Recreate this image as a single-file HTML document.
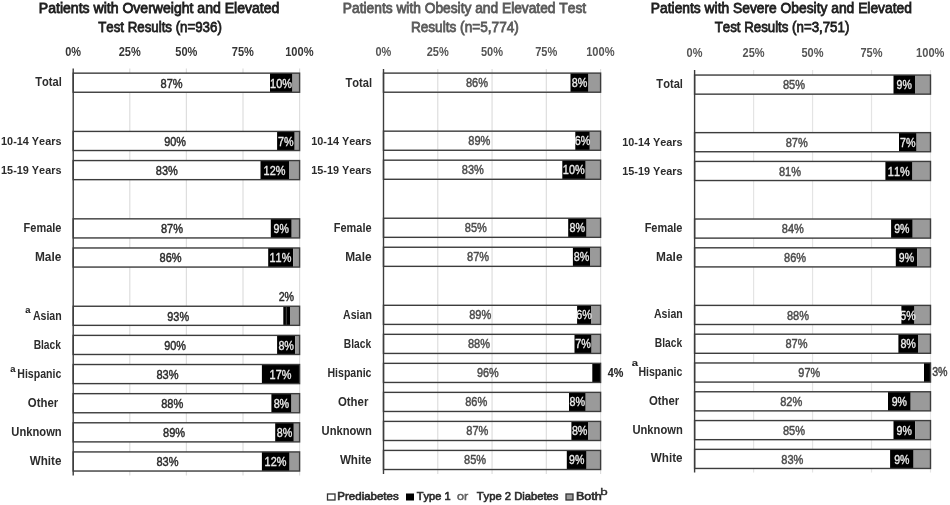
<!DOCTYPE html>
<html><head><meta charset="utf-8"><title>Elevated Test Results</title>
<style>
html,body{margin:0;padding:0;background:#fff;}
body{width:950px;height:505px;overflow:hidden;}
svg{display:block;font-family:"Liberation Sans",Arial,sans-serif;font-kerning:none;}
</style></head><body>
<svg width="950" height="505" viewBox="0 0 950 505">
<rect x="0" y="0" width="950" height="505" fill="#fff"/>
<line x1="129.80" y1="68.50" x2="129.80" y2="475.50" stroke="#dedede" stroke-width="1.2"/>
<line x1="186.40" y1="68.50" x2="186.40" y2="475.50" stroke="#dedede" stroke-width="1.2"/>
<line x1="243.00" y1="68.50" x2="243.00" y2="475.50" stroke="#dedede" stroke-width="1.2"/>
<line x1="299.60" y1="68.50" x2="299.60" y2="475.50" stroke="#dedede" stroke-width="1.2"/>
<text x="65.21" y="56.00" font-size="12.54" font-weight="bold" fill="#363636" stroke="#363636" stroke-width="0" textLength="15.84" lengthAdjust="spacingAndGlyphs" >0%</text>
<text x="118.72" y="56.00" font-size="12.54" font-weight="bold" fill="#363636" stroke="#363636" stroke-width="0" textLength="22.06" lengthAdjust="spacingAndGlyphs" >25%</text>
<text x="175.34" y="56.00" font-size="12.54" font-weight="bold" fill="#363636" stroke="#363636" stroke-width="0" textLength="22.08" lengthAdjust="spacingAndGlyphs" >50%</text>
<text x="231.87" y="56.00" font-size="12.58" font-weight="bold" fill="#363636" stroke="#363636" stroke-width="0" textLength="22.07" lengthAdjust="spacingAndGlyphs" >75%</text>
<text x="285.20" y="56.00" font-size="12.54" font-weight="bold" fill="#363636" stroke="#363636" stroke-width="0" textLength="28.40" lengthAdjust="spacingAndGlyphs" >100%</text>
<text x="38.85" y="13.00" font-size="14.18" font-weight="normal" fill="#1e1e1e" stroke="#1e1e1e" stroke-width="0.8" textLength="240.56" lengthAdjust="spacingAndGlyphs" >Patients with Overweight and Elevated</text>
<text x="98.20" y="32.00" font-size="14.94" font-weight="normal" fill="#1e1e1e" stroke="#1e1e1e" stroke-width="0.8" textLength="123.62" lengthAdjust="spacingAndGlyphs" >Test Results (n=936)</text>
<rect x="73.20" y="73.15" width="196.80" height="19.10" fill="#ffffff"/>
<rect x="270.00" y="73.15" width="22.50" height="19.10" fill="#000000"/>
<rect x="292.50" y="73.15" width="7.10" height="19.10" fill="#9a9a9a"/>
<rect x="73.20" y="73.15" width="226.40" height="19.10" fill="none" stroke="#3c3c3c" stroke-width="1.4"/>
<text x="160.52" y="87.60" font-size="12.52" font-weight="normal" fill="#2a2a2a" stroke="#2a2a2a" stroke-width="0.45" textLength="22.07" lengthAdjust="spacingAndGlyphs" >87%</text>
<text x="270.12" y="87.60" font-size="12.50" font-weight="normal" fill="#ececec" stroke="#ececec" stroke-width="0.35" textLength="21.83" lengthAdjust="spacingAndGlyphs" >10%</text>
<text x="35.26" y="86.40" font-size="12.10" font-weight="bold" fill="#2c2c2c" stroke="#2c2c2c" stroke-width="0.0" textLength="26.53" lengthAdjust="spacingAndGlyphs" >Total</text>
<rect x="73.20" y="131.42" width="203.90" height="19.10" fill="#ffffff"/>
<rect x="277.10" y="131.42" width="17.60" height="19.10" fill="#000000"/>
<rect x="294.70" y="131.42" width="4.90" height="19.10" fill="#9a9a9a"/>
<rect x="73.20" y="131.42" width="226.40" height="19.10" fill="none" stroke="#3c3c3c" stroke-width="1.4"/>
<text x="164.19" y="145.87" font-size="12.50" font-weight="normal" fill="#2a2a2a" stroke="#2a2a2a" stroke-width="0.45" textLength="21.79" lengthAdjust="spacingAndGlyphs" >90%</text>
<text x="278.04" y="145.87" font-size="12.58" font-weight="normal" fill="#ececec" stroke="#ececec" stroke-width="0.35" textLength="15.55" lengthAdjust="spacingAndGlyphs" >7%</text>
<text x="1.09" y="144.67" font-size="11.74" font-weight="bold" fill="#2c2c2c" stroke="#2c2c2c" stroke-width="0.0" textLength="60.36" lengthAdjust="spacingAndGlyphs" >10-14 Years</text>
<rect x="73.20" y="160.56" width="187.30" height="19.10" fill="#ffffff"/>
<rect x="260.50" y="160.56" width="28.50" height="19.10" fill="#000000"/>
<rect x="289.00" y="160.56" width="10.60" height="19.10" fill="#9a9a9a"/>
<rect x="73.20" y="160.56" width="226.40" height="19.10" fill="none" stroke="#3c3c3c" stroke-width="1.4"/>
<text x="155.77" y="175.01" font-size="12.52" font-weight="normal" fill="#2a2a2a" stroke="#2a2a2a" stroke-width="0.45" textLength="22.07" lengthAdjust="spacingAndGlyphs" >83%</text>
<text x="263.62" y="175.01" font-size="12.50" font-weight="normal" fill="#ececec" stroke="#ececec" stroke-width="0.35" textLength="21.83" lengthAdjust="spacingAndGlyphs" >12%</text>
<text x="1.09" y="173.81" font-size="11.74" font-weight="bold" fill="#2c2c2c" stroke="#2c2c2c" stroke-width="0.0" textLength="60.36" lengthAdjust="spacingAndGlyphs" >15-19 Years</text>
<rect x="73.20" y="218.84" width="197.60" height="19.10" fill="#ffffff"/>
<rect x="270.80" y="218.84" width="20.90" height="19.10" fill="#000000"/>
<rect x="291.70" y="218.84" width="7.90" height="19.10" fill="#9a9a9a"/>
<rect x="73.20" y="218.84" width="226.40" height="19.10" fill="none" stroke="#3c3c3c" stroke-width="1.4"/>
<text x="160.92" y="233.29" font-size="12.52" font-weight="normal" fill="#2a2a2a" stroke="#2a2a2a" stroke-width="0.45" textLength="22.07" lengthAdjust="spacingAndGlyphs" >87%</text>
<text x="273.55" y="233.29" font-size="12.50" font-weight="normal" fill="#ececec" stroke="#ececec" stroke-width="0.35" textLength="15.28" lengthAdjust="spacingAndGlyphs" >9%</text>
<text x="23.58" y="232.09" font-size="12.10" font-weight="bold" fill="#2c2c2c" stroke="#2c2c2c" stroke-width="0.0" textLength="37.80" lengthAdjust="spacingAndGlyphs" >Female</text>
<rect x="73.20" y="247.97" width="195.00" height="19.10" fill="#ffffff"/>
<rect x="268.20" y="247.97" width="24.90" height="19.10" fill="#000000"/>
<rect x="293.10" y="247.97" width="6.50" height="19.10" fill="#9a9a9a"/>
<rect x="73.20" y="247.97" width="226.40" height="19.10" fill="none" stroke="#3c3c3c" stroke-width="1.4"/>
<text x="159.62" y="262.42" font-size="12.52" font-weight="normal" fill="#2a2a2a" stroke="#2a2a2a" stroke-width="0.45" textLength="22.07" lengthAdjust="spacingAndGlyphs" >86%</text>
<text x="269.52" y="262.42" font-size="12.58" font-weight="normal" fill="#ececec" stroke="#ececec" stroke-width="0.35" textLength="21.83" lengthAdjust="spacingAndGlyphs" >11%</text>
<text x="34.97" y="261.22" font-size="12.10" font-weight="bold" fill="#2c2c2c" stroke="#2c2c2c" stroke-width="0.0" textLength="26.43" lengthAdjust="spacingAndGlyphs" >Male</text>
<rect x="73.20" y="306.25" width="210.10" height="19.10" fill="#ffffff"/>
<rect x="283.30" y="306.25" width="6.70" height="19.10" fill="#000000"/>
<rect x="290.00" y="306.25" width="9.60" height="19.10" fill="#9a9a9a"/>
<rect x="73.20" y="306.25" width="226.40" height="19.10" fill="none" stroke="#3c3c3c" stroke-width="1.4"/>
<text x="167.29" y="320.70" font-size="12.50" font-weight="normal" fill="#2a2a2a" stroke="#2a2a2a" stroke-width="0.45" textLength="21.79" lengthAdjust="spacingAndGlyphs" >93%</text>
<text x="32.91" y="319.50" font-size="12.10" font-weight="bold" fill="#2c2c2c" stroke="#2c2c2c" stroke-width="0.0" textLength="28.75" lengthAdjust="spacingAndGlyphs" >Asian</text>
<rect x="73.20" y="335.38" width="203.90" height="19.10" fill="#ffffff"/>
<rect x="277.10" y="335.38" width="18.20" height="19.10" fill="#000000"/>
<rect x="295.30" y="335.38" width="4.30" height="19.10" fill="#9a9a9a"/>
<rect x="73.20" y="335.38" width="226.40" height="19.10" fill="none" stroke="#3c3c3c" stroke-width="1.4"/>
<text x="164.19" y="349.83" font-size="12.50" font-weight="normal" fill="#2a2a2a" stroke="#2a2a2a" stroke-width="0.45" textLength="21.79" lengthAdjust="spacingAndGlyphs" >90%</text>
<text x="278.38" y="349.83" font-size="12.52" font-weight="normal" fill="#ececec" stroke="#ececec" stroke-width="0.35" textLength="15.56" lengthAdjust="spacingAndGlyphs" >8%</text>
<text x="33.64" y="348.63" font-size="12.10" font-weight="bold" fill="#2c2c2c" stroke="#2c2c2c" stroke-width="0.0" textLength="27.35" lengthAdjust="spacingAndGlyphs" >Black</text>
<rect x="73.20" y="364.52" width="188.70" height="19.10" fill="#ffffff"/>
<rect x="261.90" y="364.52" width="37.70" height="19.10" fill="#000000"/>
<rect x="73.20" y="364.52" width="226.40" height="19.10" fill="none" stroke="#3c3c3c" stroke-width="1.4"/>
<text x="156.47" y="378.97" font-size="12.52" font-weight="normal" fill="#2a2a2a" stroke="#2a2a2a" stroke-width="0.45" textLength="22.07" lengthAdjust="spacingAndGlyphs" >83%</text>
<text x="269.62" y="378.97" font-size="12.58" font-weight="normal" fill="#ececec" stroke="#ececec" stroke-width="0.35" textLength="21.83" lengthAdjust="spacingAndGlyphs" >17%</text>
<text x="17.28" y="377.77" font-size="12.10" font-weight="bold" fill="#2c2c2c" stroke="#2c2c2c" stroke-width="0.0" textLength="44.03" lengthAdjust="spacingAndGlyphs" >Hispanic</text>
<rect x="73.20" y="393.66" width="198.20" height="19.10" fill="#ffffff"/>
<rect x="271.40" y="393.66" width="20.10" height="19.10" fill="#000000"/>
<rect x="291.50" y="393.66" width="8.10" height="19.10" fill="#9a9a9a"/>
<rect x="73.20" y="393.66" width="226.40" height="19.10" fill="none" stroke="#3c3c3c" stroke-width="1.4"/>
<text x="161.22" y="408.11" font-size="12.52" font-weight="normal" fill="#2a2a2a" stroke="#2a2a2a" stroke-width="0.45" textLength="22.07" lengthAdjust="spacingAndGlyphs" >88%</text>
<text x="273.63" y="408.11" font-size="12.52" font-weight="normal" fill="#ececec" stroke="#ececec" stroke-width="0.35" textLength="15.56" lengthAdjust="spacingAndGlyphs" >8%</text>
<text x="27.78" y="406.91" font-size="12.10" font-weight="bold" fill="#2c2c2c" stroke="#2c2c2c" stroke-width="0.0" textLength="30.39" lengthAdjust="spacingAndGlyphs" >Other</text>
<rect x="73.20" y="422.79" width="202.00" height="19.10" fill="#ffffff"/>
<rect x="275.20" y="422.79" width="18.60" height="19.10" fill="#000000"/>
<rect x="293.80" y="422.79" width="5.80" height="19.10" fill="#9a9a9a"/>
<rect x="73.20" y="422.79" width="226.40" height="19.10" fill="none" stroke="#3c3c3c" stroke-width="1.4"/>
<text x="163.12" y="437.24" font-size="12.52" font-weight="normal" fill="#2a2a2a" stroke="#2a2a2a" stroke-width="0.45" textLength="22.07" lengthAdjust="spacingAndGlyphs" >89%</text>
<text x="276.68" y="437.24" font-size="12.52" font-weight="normal" fill="#ececec" stroke="#ececec" stroke-width="0.35" textLength="15.56" lengthAdjust="spacingAndGlyphs" >8%</text>
<text x="11.35" y="436.04" font-size="12.10" font-weight="bold" fill="#2c2c2c" stroke="#2c2c2c" stroke-width="0.0" textLength="50.35" lengthAdjust="spacingAndGlyphs" >Unknown</text>
<rect x="73.20" y="451.93" width="188.70" height="19.10" fill="#ffffff"/>
<rect x="261.90" y="451.93" width="27.70" height="19.10" fill="#000000"/>
<rect x="289.60" y="451.93" width="10.00" height="19.10" fill="#9a9a9a"/>
<rect x="73.20" y="451.93" width="226.40" height="19.10" fill="none" stroke="#3c3c3c" stroke-width="1.4"/>
<text x="156.47" y="466.38" font-size="12.52" font-weight="normal" fill="#2a2a2a" stroke="#2a2a2a" stroke-width="0.45" textLength="22.07" lengthAdjust="spacingAndGlyphs" >83%</text>
<text x="264.62" y="466.38" font-size="12.50" font-weight="normal" fill="#ececec" stroke="#ececec" stroke-width="0.35" textLength="21.83" lengthAdjust="spacingAndGlyphs" >12%</text>
<text x="29.69" y="465.18" font-size="12.10" font-weight="bold" fill="#2c2c2c" stroke="#2c2c2c" stroke-width="0.0" textLength="31.71" lengthAdjust="spacingAndGlyphs" >White</text>
<line x1="73.20" y1="68.50" x2="73.20" y2="475.50" stroke="#3c3c3c" stroke-width="1.4"/>
<line x1="437.77" y1="69.00" x2="437.77" y2="474.00" stroke="#dedede" stroke-width="1.2"/>
<line x1="492.05" y1="69.00" x2="492.05" y2="474.00" stroke="#dedede" stroke-width="1.2"/>
<line x1="546.33" y1="69.00" x2="546.33" y2="474.00" stroke="#dedede" stroke-width="1.2"/>
<line x1="600.60" y1="69.00" x2="600.60" y2="474.00" stroke="#dedede" stroke-width="1.2"/>
<text x="375.51" y="55.60" font-size="12.54" font-weight="bold" fill="#555" stroke="#555" stroke-width="0" textLength="15.84" lengthAdjust="spacingAndGlyphs" >0%</text>
<text x="426.70" y="55.60" font-size="12.54" font-weight="bold" fill="#555" stroke="#555" stroke-width="0" textLength="22.06" lengthAdjust="spacingAndGlyphs" >25%</text>
<text x="480.99" y="55.60" font-size="12.54" font-weight="bold" fill="#555" stroke="#555" stroke-width="0" textLength="22.08" lengthAdjust="spacingAndGlyphs" >50%</text>
<text x="535.20" y="55.60" font-size="12.58" font-weight="bold" fill="#555" stroke="#555" stroke-width="0" textLength="22.07" lengthAdjust="spacingAndGlyphs" >75%</text>
<text x="586.20" y="55.60" font-size="12.54" font-weight="bold" fill="#555" stroke="#555" stroke-width="0" textLength="28.40" lengthAdjust="spacingAndGlyphs" >100%</text>
<text x="342.87" y="13.00" font-size="14.18" font-weight="normal" fill="#5a5a5a" stroke="#5a5a5a" stroke-width="0.8" textLength="243.23" lengthAdjust="spacingAndGlyphs" >Patients with Obesity and Elevated Test</text>
<text x="410.88" y="32.00" font-size="14.94" font-weight="normal" fill="#5a5a5a" stroke="#5a5a5a" stroke-width="0.8" textLength="107.96" lengthAdjust="spacingAndGlyphs" >Results (n=5,774)</text>
<rect x="383.50" y="73.11" width="187.00" height="19.10" fill="#ffffff"/>
<rect x="570.50" y="73.11" width="18.00" height="19.10" fill="#000000"/>
<rect x="588.50" y="73.11" width="12.10" height="19.10" fill="#9a9a9a"/>
<line x1="437.77" y1="73.81" x2="437.77" y2="91.51" stroke="#dedede" stroke-width="1.2"/>
<line x1="492.05" y1="73.81" x2="492.05" y2="91.51" stroke="#dedede" stroke-width="1.2"/>
<line x1="546.33" y1="73.81" x2="546.33" y2="91.51" stroke="#dedede" stroke-width="1.2"/>
<rect x="383.50" y="73.11" width="217.10" height="19.10" fill="none" stroke="#3c3c3c" stroke-width="1.4"/>
<text x="465.92" y="87.06" font-size="12.52" font-weight="normal" fill="#4a4a4a" stroke="#4a4a4a" stroke-width="0.45" textLength="22.07" lengthAdjust="spacingAndGlyphs" >86%</text>
<text x="571.68" y="87.06" font-size="12.52" font-weight="normal" fill="#ececec" stroke="#ececec" stroke-width="0.35" textLength="15.56" lengthAdjust="spacingAndGlyphs" >8%</text>
<text x="345.46" y="86.61" font-size="12.10" font-weight="bold" fill="#2c2c2c" stroke="#2c2c2c" stroke-width="0.0" textLength="26.53" lengthAdjust="spacingAndGlyphs" >Total</text>
<rect x="383.50" y="131.16" width="191.80" height="19.10" fill="#ffffff"/>
<rect x="575.30" y="131.16" width="14.50" height="19.10" fill="#000000"/>
<rect x="589.80" y="131.16" width="10.80" height="19.10" fill="#9a9a9a"/>
<line x1="437.77" y1="131.86" x2="437.77" y2="149.56" stroke="#dedede" stroke-width="1.2"/>
<line x1="492.05" y1="131.86" x2="492.05" y2="149.56" stroke="#dedede" stroke-width="1.2"/>
<line x1="546.33" y1="131.86" x2="546.33" y2="149.56" stroke="#dedede" stroke-width="1.2"/>
<rect x="383.50" y="131.16" width="217.10" height="19.10" fill="none" stroke="#3c3c3c" stroke-width="1.4"/>
<text x="468.32" y="145.11" font-size="12.52" font-weight="normal" fill="#4a4a4a" stroke="#4a4a4a" stroke-width="0.45" textLength="22.07" lengthAdjust="spacingAndGlyphs" >89%</text>
<text x="574.68" y="145.11" font-size="12.50" font-weight="normal" fill="#ececec" stroke="#ececec" stroke-width="0.35" textLength="15.58" lengthAdjust="spacingAndGlyphs" >6%</text>
<text x="311.29" y="144.66" font-size="11.74" font-weight="bold" fill="#2c2c2c" stroke="#2c2c2c" stroke-width="0.0" textLength="60.36" lengthAdjust="spacingAndGlyphs" >10-14 Years</text>
<rect x="383.50" y="160.18" width="178.80" height="19.10" fill="#ffffff"/>
<rect x="562.30" y="160.18" width="23.40" height="19.10" fill="#000000"/>
<rect x="585.70" y="160.18" width="14.90" height="19.10" fill="#9a9a9a"/>
<line x1="437.77" y1="160.88" x2="437.77" y2="178.58" stroke="#dedede" stroke-width="1.2"/>
<line x1="492.05" y1="160.88" x2="492.05" y2="178.58" stroke="#dedede" stroke-width="1.2"/>
<line x1="546.33" y1="160.88" x2="546.33" y2="178.58" stroke="#dedede" stroke-width="1.2"/>
<rect x="383.50" y="160.18" width="217.10" height="19.10" fill="none" stroke="#3c3c3c" stroke-width="1.4"/>
<text x="461.82" y="174.13" font-size="12.52" font-weight="normal" fill="#4a4a4a" stroke="#4a4a4a" stroke-width="0.45" textLength="22.07" lengthAdjust="spacingAndGlyphs" >83%</text>
<text x="562.87" y="174.13" font-size="12.50" font-weight="normal" fill="#ececec" stroke="#ececec" stroke-width="0.35" textLength="21.83" lengthAdjust="spacingAndGlyphs" >10%</text>
<text x="311.29" y="173.68" font-size="11.74" font-weight="bold" fill="#2c2c2c" stroke="#2c2c2c" stroke-width="0.0" textLength="60.36" lengthAdjust="spacingAndGlyphs" >15-19 Years</text>
<rect x="383.50" y="218.23" width="184.70" height="19.10" fill="#ffffff"/>
<rect x="568.20" y="218.23" width="18.40" height="19.10" fill="#000000"/>
<rect x="586.60" y="218.23" width="14.00" height="19.10" fill="#9a9a9a"/>
<line x1="437.77" y1="218.93" x2="437.77" y2="236.63" stroke="#dedede" stroke-width="1.2"/>
<line x1="492.05" y1="218.93" x2="492.05" y2="236.63" stroke="#dedede" stroke-width="1.2"/>
<line x1="546.33" y1="218.93" x2="546.33" y2="236.63" stroke="#dedede" stroke-width="1.2"/>
<rect x="383.50" y="218.23" width="217.10" height="19.10" fill="none" stroke="#3c3c3c" stroke-width="1.4"/>
<text x="464.77" y="232.18" font-size="12.52" font-weight="normal" fill="#4a4a4a" stroke="#4a4a4a" stroke-width="0.45" textLength="22.07" lengthAdjust="spacingAndGlyphs" >85%</text>
<text x="569.58" y="232.18" font-size="12.52" font-weight="normal" fill="#ececec" stroke="#ececec" stroke-width="0.35" textLength="15.56" lengthAdjust="spacingAndGlyphs" >8%</text>
<text x="333.78" y="231.73" font-size="12.10" font-weight="bold" fill="#2c2c2c" stroke="#2c2c2c" stroke-width="0.0" textLength="37.80" lengthAdjust="spacingAndGlyphs" >Female</text>
<rect x="383.50" y="247.25" width="189.40" height="19.10" fill="#ffffff"/>
<rect x="572.90" y="247.25" width="17.50" height="19.10" fill="#000000"/>
<rect x="590.40" y="247.25" width="10.20" height="19.10" fill="#9a9a9a"/>
<line x1="437.77" y1="247.95" x2="437.77" y2="265.65" stroke="#dedede" stroke-width="1.2"/>
<line x1="492.05" y1="247.95" x2="492.05" y2="265.65" stroke="#dedede" stroke-width="1.2"/>
<line x1="546.33" y1="247.95" x2="546.33" y2="265.65" stroke="#dedede" stroke-width="1.2"/>
<rect x="383.50" y="247.25" width="217.10" height="19.10" fill="none" stroke="#3c3c3c" stroke-width="1.4"/>
<text x="467.12" y="261.20" font-size="12.52" font-weight="normal" fill="#4a4a4a" stroke="#4a4a4a" stroke-width="0.45" textLength="22.07" lengthAdjust="spacingAndGlyphs" >87%</text>
<text x="573.83" y="261.20" font-size="12.52" font-weight="normal" fill="#ececec" stroke="#ececec" stroke-width="0.35" textLength="15.56" lengthAdjust="spacingAndGlyphs" >8%</text>
<text x="345.17" y="260.75" font-size="12.10" font-weight="bold" fill="#2c2c2c" stroke="#2c2c2c" stroke-width="0.0" textLength="26.43" lengthAdjust="spacingAndGlyphs" >Male</text>
<rect x="383.50" y="305.30" width="193.60" height="19.10" fill="#ffffff"/>
<rect x="577.10" y="305.30" width="13.90" height="19.10" fill="#000000"/>
<rect x="591.00" y="305.30" width="9.60" height="19.10" fill="#9a9a9a"/>
<line x1="437.77" y1="306.00" x2="437.77" y2="323.70" stroke="#dedede" stroke-width="1.2"/>
<line x1="492.05" y1="306.00" x2="492.05" y2="323.70" stroke="#dedede" stroke-width="1.2"/>
<line x1="546.33" y1="306.00" x2="546.33" y2="323.70" stroke="#dedede" stroke-width="1.2"/>
<rect x="383.50" y="305.30" width="217.10" height="19.10" fill="none" stroke="#3c3c3c" stroke-width="1.4"/>
<text x="469.22" y="319.25" font-size="12.52" font-weight="normal" fill="#4a4a4a" stroke="#4a4a4a" stroke-width="0.45" textLength="22.07" lengthAdjust="spacingAndGlyphs" >89%</text>
<text x="576.18" y="319.25" font-size="12.50" font-weight="normal" fill="#ececec" stroke="#ececec" stroke-width="0.35" textLength="15.58" lengthAdjust="spacingAndGlyphs" >6%</text>
<text x="343.11" y="318.80" font-size="12.10" font-weight="bold" fill="#2c2c2c" stroke="#2c2c2c" stroke-width="0.0" textLength="28.75" lengthAdjust="spacingAndGlyphs" >Asian</text>
<rect x="383.50" y="334.33" width="191.00" height="19.10" fill="#ffffff"/>
<rect x="574.50" y="334.33" width="17.10" height="19.10" fill="#000000"/>
<rect x="591.60" y="334.33" width="9.00" height="19.10" fill="#9a9a9a"/>
<line x1="437.77" y1="335.03" x2="437.77" y2="352.73" stroke="#dedede" stroke-width="1.2"/>
<line x1="492.05" y1="335.03" x2="492.05" y2="352.73" stroke="#dedede" stroke-width="1.2"/>
<line x1="546.33" y1="335.03" x2="546.33" y2="352.73" stroke="#dedede" stroke-width="1.2"/>
<rect x="383.50" y="334.33" width="217.10" height="19.10" fill="none" stroke="#3c3c3c" stroke-width="1.4"/>
<text x="467.92" y="348.28" font-size="12.52" font-weight="normal" fill="#4a4a4a" stroke="#4a4a4a" stroke-width="0.45" textLength="22.07" lengthAdjust="spacingAndGlyphs" >88%</text>
<text x="575.19" y="348.28" font-size="12.58" font-weight="normal" fill="#ececec" stroke="#ececec" stroke-width="0.35" textLength="15.55" lengthAdjust="spacingAndGlyphs" >7%</text>
<text x="343.84" y="347.83" font-size="12.10" font-weight="bold" fill="#2c2c2c" stroke="#2c2c2c" stroke-width="0.0" textLength="27.35" lengthAdjust="spacingAndGlyphs" >Black</text>
<rect x="383.50" y="363.35" width="208.80" height="19.10" fill="#ffffff"/>
<rect x="592.30" y="363.35" width="8.30" height="19.10" fill="#000000"/>
<line x1="437.77" y1="364.05" x2="437.77" y2="381.75" stroke="#dedede" stroke-width="1.2"/>
<line x1="492.05" y1="364.05" x2="492.05" y2="381.75" stroke="#dedede" stroke-width="1.2"/>
<line x1="546.33" y1="364.05" x2="546.33" y2="381.75" stroke="#dedede" stroke-width="1.2"/>
<rect x="383.50" y="363.35" width="217.10" height="19.10" fill="none" stroke="#3c3c3c" stroke-width="1.4"/>
<text x="476.94" y="377.30" font-size="12.50" font-weight="normal" fill="#4a4a4a" stroke="#4a4a4a" stroke-width="0.45" textLength="21.79" lengthAdjust="spacingAndGlyphs" >96%</text>
<text x="327.48" y="376.85" font-size="12.10" font-weight="bold" fill="#2c2c2c" stroke="#2c2c2c" stroke-width="0.0" textLength="44.03" lengthAdjust="spacingAndGlyphs" >Hispanic</text>
<rect x="383.50" y="392.37" width="185.50" height="19.10" fill="#ffffff"/>
<rect x="569.00" y="392.37" width="16.70" height="19.10" fill="#000000"/>
<rect x="585.70" y="392.37" width="14.90" height="19.10" fill="#9a9a9a"/>
<line x1="437.77" y1="393.07" x2="437.77" y2="410.77" stroke="#dedede" stroke-width="1.2"/>
<line x1="492.05" y1="393.07" x2="492.05" y2="410.77" stroke="#dedede" stroke-width="1.2"/>
<line x1="546.33" y1="393.07" x2="546.33" y2="410.77" stroke="#dedede" stroke-width="1.2"/>
<rect x="383.50" y="392.37" width="217.10" height="19.10" fill="none" stroke="#3c3c3c" stroke-width="1.4"/>
<text x="465.17" y="406.32" font-size="12.52" font-weight="normal" fill="#4a4a4a" stroke="#4a4a4a" stroke-width="0.45" textLength="22.07" lengthAdjust="spacingAndGlyphs" >86%</text>
<text x="569.53" y="406.32" font-size="12.52" font-weight="normal" fill="#ececec" stroke="#ececec" stroke-width="0.35" textLength="15.56" lengthAdjust="spacingAndGlyphs" >8%</text>
<text x="337.98" y="405.87" font-size="12.10" font-weight="bold" fill="#2c2c2c" stroke="#2c2c2c" stroke-width="0.0" textLength="30.39" lengthAdjust="spacingAndGlyphs" >Other</text>
<rect x="383.50" y="421.40" width="187.90" height="19.10" fill="#ffffff"/>
<rect x="571.40" y="421.40" width="16.60" height="19.10" fill="#000000"/>
<rect x="588.00" y="421.40" width="12.60" height="19.10" fill="#9a9a9a"/>
<line x1="437.77" y1="422.10" x2="437.77" y2="439.80" stroke="#dedede" stroke-width="1.2"/>
<line x1="492.05" y1="422.10" x2="492.05" y2="439.80" stroke="#dedede" stroke-width="1.2"/>
<line x1="546.33" y1="422.10" x2="546.33" y2="439.80" stroke="#dedede" stroke-width="1.2"/>
<rect x="383.50" y="421.40" width="217.10" height="19.10" fill="none" stroke="#3c3c3c" stroke-width="1.4"/>
<text x="466.37" y="435.35" font-size="12.52" font-weight="normal" fill="#4a4a4a" stroke="#4a4a4a" stroke-width="0.45" textLength="22.07" lengthAdjust="spacingAndGlyphs" >87%</text>
<text x="571.88" y="435.35" font-size="12.52" font-weight="normal" fill="#ececec" stroke="#ececec" stroke-width="0.35" textLength="15.56" lengthAdjust="spacingAndGlyphs" >8%</text>
<text x="321.55" y="434.90" font-size="12.10" font-weight="bold" fill="#2c2c2c" stroke="#2c2c2c" stroke-width="0.0" textLength="50.35" lengthAdjust="spacingAndGlyphs" >Unknown</text>
<rect x="383.50" y="450.42" width="183.30" height="19.10" fill="#ffffff"/>
<rect x="566.80" y="450.42" width="19.80" height="19.10" fill="#000000"/>
<rect x="586.60" y="450.42" width="14.00" height="19.10" fill="#9a9a9a"/>
<line x1="437.77" y1="451.12" x2="437.77" y2="468.82" stroke="#dedede" stroke-width="1.2"/>
<line x1="492.05" y1="451.12" x2="492.05" y2="468.82" stroke="#dedede" stroke-width="1.2"/>
<line x1="546.33" y1="451.12" x2="546.33" y2="468.82" stroke="#dedede" stroke-width="1.2"/>
<rect x="383.50" y="450.42" width="217.10" height="19.10" fill="none" stroke="#3c3c3c" stroke-width="1.4"/>
<text x="464.07" y="464.37" font-size="12.52" font-weight="normal" fill="#4a4a4a" stroke="#4a4a4a" stroke-width="0.45" textLength="22.07" lengthAdjust="spacingAndGlyphs" >85%</text>
<text x="569.00" y="464.37" font-size="12.50" font-weight="normal" fill="#ececec" stroke="#ececec" stroke-width="0.35" textLength="15.28" lengthAdjust="spacingAndGlyphs" >9%</text>
<text x="339.89" y="463.92" font-size="12.10" font-weight="bold" fill="#2c2c2c" stroke="#2c2c2c" stroke-width="0.0" textLength="31.71" lengthAdjust="spacingAndGlyphs" >White</text>
<line x1="383.50" y1="69.00" x2="383.50" y2="474.00" stroke="#3c3c3c" stroke-width="1.4"/>
<line x1="753.58" y1="70.00" x2="753.58" y2="472.50" stroke="#e4e4e4" stroke-width="1.2"/>
<line x1="812.55" y1="70.00" x2="812.55" y2="472.50" stroke="#e4e4e4" stroke-width="1.2"/>
<line x1="871.52" y1="70.00" x2="871.52" y2="472.50" stroke="#e4e4e4" stroke-width="1.2"/>
<line x1="930.50" y1="70.00" x2="930.50" y2="472.50" stroke="#e4e4e4" stroke-width="1.2"/>
<text x="686.61" y="57.00" font-size="12.54" font-weight="bold" fill="#555" stroke="#555" stroke-width="0" textLength="15.84" lengthAdjust="spacingAndGlyphs" >0%</text>
<text x="742.50" y="57.00" font-size="12.54" font-weight="bold" fill="#555" stroke="#555" stroke-width="0" textLength="22.06" lengthAdjust="spacingAndGlyphs" >25%</text>
<text x="801.49" y="57.00" font-size="12.54" font-weight="bold" fill="#555" stroke="#555" stroke-width="0" textLength="22.08" lengthAdjust="spacingAndGlyphs" >50%</text>
<text x="860.40" y="57.00" font-size="12.58" font-weight="bold" fill="#555" stroke="#555" stroke-width="0" textLength="22.07" lengthAdjust="spacingAndGlyphs" >75%</text>
<text x="916.10" y="57.00" font-size="12.54" font-weight="bold" fill="#555" stroke="#555" stroke-width="0" textLength="28.40" lengthAdjust="spacingAndGlyphs" >100%</text>
<text x="650.87" y="13.00" font-size="14.18" font-weight="normal" fill="#1e1e1e" stroke="#1e1e1e" stroke-width="0.8" textLength="261.02" lengthAdjust="spacingAndGlyphs" >Patients with Severe Obesity and Elevated</text>
<text x="714.70" y="32.00" font-size="14.94" font-weight="normal" fill="#1e1e1e" stroke="#1e1e1e" stroke-width="0.8" textLength="134.62" lengthAdjust="spacingAndGlyphs" >Test Results (n=3,751)</text>
<rect x="694.60" y="75.05" width="198.90" height="19.10" fill="#ffffff"/>
<rect x="893.50" y="75.05" width="21.50" height="19.10" fill="#000000"/>
<rect x="915.00" y="75.05" width="15.50" height="19.10" fill="#9a9a9a"/>
<rect x="694.60" y="75.05" width="235.90" height="19.10" fill="none" stroke="#3c3c3c" stroke-width="1.4"/>
<text x="782.97" y="89.30" font-size="12.52" font-weight="normal" fill="#4a4a4a" stroke="#4a4a4a" stroke-width="0.45" textLength="22.07" lengthAdjust="spacingAndGlyphs" >85%</text>
<text x="896.55" y="89.30" font-size="12.50" font-weight="normal" fill="#ececec" stroke="#ececec" stroke-width="0.35" textLength="15.28" lengthAdjust="spacingAndGlyphs" >9%</text>
<text x="656.36" y="88.15" font-size="12.10" font-weight="bold" fill="#2c2c2c" stroke="#2c2c2c" stroke-width="0.0" textLength="26.53" lengthAdjust="spacingAndGlyphs" >Total</text>
<rect x="694.60" y="132.64" width="204.40" height="19.10" fill="#ffffff"/>
<rect x="899.00" y="132.64" width="17.60" height="19.10" fill="#000000"/>
<rect x="916.60" y="132.64" width="13.90" height="19.10" fill="#9a9a9a"/>
<rect x="694.60" y="132.64" width="235.90" height="19.10" fill="none" stroke="#3c3c3c" stroke-width="1.4"/>
<text x="785.72" y="146.89" font-size="12.52" font-weight="normal" fill="#4a4a4a" stroke="#4a4a4a" stroke-width="0.45" textLength="22.07" lengthAdjust="spacingAndGlyphs" >87%</text>
<text x="899.94" y="146.89" font-size="12.58" font-weight="normal" fill="#ececec" stroke="#ececec" stroke-width="0.35" textLength="15.55" lengthAdjust="spacingAndGlyphs" >7%</text>
<text x="622.19" y="145.74" font-size="11.74" font-weight="bold" fill="#2c2c2c" stroke="#2c2c2c" stroke-width="0.0" textLength="60.36" lengthAdjust="spacingAndGlyphs" >10-14 Years</text>
<rect x="694.60" y="161.43" width="190.80" height="19.10" fill="#ffffff"/>
<rect x="885.40" y="161.43" width="27.10" height="19.10" fill="#000000"/>
<rect x="912.50" y="161.43" width="18.00" height="19.10" fill="#9a9a9a"/>
<rect x="694.60" y="161.43" width="235.90" height="19.10" fill="none" stroke="#3c3c3c" stroke-width="1.4"/>
<text x="778.92" y="175.68" font-size="12.52" font-weight="normal" fill="#4a4a4a" stroke="#4a4a4a" stroke-width="0.45" textLength="22.07" lengthAdjust="spacingAndGlyphs" >81%</text>
<text x="887.82" y="175.68" font-size="12.58" font-weight="normal" fill="#ececec" stroke="#ececec" stroke-width="0.35" textLength="21.83" lengthAdjust="spacingAndGlyphs" >11%</text>
<text x="622.19" y="174.53" font-size="11.74" font-weight="bold" fill="#2c2c2c" stroke="#2c2c2c" stroke-width="0.0" textLength="60.36" lengthAdjust="spacingAndGlyphs" >15-19 Years</text>
<rect x="694.60" y="219.02" width="196.50" height="19.10" fill="#ffffff"/>
<rect x="891.10" y="219.02" width="21.60" height="19.10" fill="#000000"/>
<rect x="912.70" y="219.02" width="17.80" height="19.10" fill="#9a9a9a"/>
<rect x="694.60" y="219.02" width="235.90" height="19.10" fill="none" stroke="#3c3c3c" stroke-width="1.4"/>
<text x="781.77" y="233.27" font-size="12.52" font-weight="normal" fill="#4a4a4a" stroke="#4a4a4a" stroke-width="0.45" textLength="22.07" lengthAdjust="spacingAndGlyphs" >84%</text>
<text x="894.20" y="233.27" font-size="12.50" font-weight="normal" fill="#ececec" stroke="#ececec" stroke-width="0.35" textLength="15.28" lengthAdjust="spacingAndGlyphs" >9%</text>
<text x="644.68" y="232.12" font-size="12.10" font-weight="bold" fill="#2c2c2c" stroke="#2c2c2c" stroke-width="0.0" textLength="37.80" lengthAdjust="spacingAndGlyphs" >Female</text>
<rect x="694.60" y="247.81" width="201.20" height="19.10" fill="#ffffff"/>
<rect x="895.80" y="247.81" width="21.30" height="19.10" fill="#000000"/>
<rect x="917.10" y="247.81" width="13.40" height="19.10" fill="#9a9a9a"/>
<rect x="694.60" y="247.81" width="235.90" height="19.10" fill="none" stroke="#3c3c3c" stroke-width="1.4"/>
<text x="784.12" y="262.06" font-size="12.52" font-weight="normal" fill="#4a4a4a" stroke="#4a4a4a" stroke-width="0.45" textLength="22.07" lengthAdjust="spacingAndGlyphs" >86%</text>
<text x="898.75" y="262.06" font-size="12.50" font-weight="normal" fill="#ececec" stroke="#ececec" stroke-width="0.35" textLength="15.28" lengthAdjust="spacingAndGlyphs" >9%</text>
<text x="656.07" y="260.91" font-size="12.10" font-weight="bold" fill="#2c2c2c" stroke="#2c2c2c" stroke-width="0.0" textLength="26.43" lengthAdjust="spacingAndGlyphs" >Male</text>
<rect x="694.60" y="305.39" width="206.80" height="19.10" fill="#ffffff"/>
<rect x="901.40" y="305.39" width="13.10" height="19.10" fill="#000000"/>
<rect x="914.50" y="305.39" width="16.00" height="19.10" fill="#9a9a9a"/>
<rect x="694.60" y="305.39" width="235.90" height="19.10" fill="none" stroke="#3c3c3c" stroke-width="1.4"/>
<text x="786.92" y="319.64" font-size="12.52" font-weight="normal" fill="#4a4a4a" stroke="#4a4a4a" stroke-width="0.45" textLength="22.07" lengthAdjust="spacingAndGlyphs" >88%</text>
<text x="900.20" y="319.64" font-size="12.58" font-weight="normal" fill="#ececec" stroke="#ececec" stroke-width="0.35" textLength="15.45" lengthAdjust="spacingAndGlyphs" >5%</text>
<text x="654.01" y="318.49" font-size="12.10" font-weight="bold" fill="#2c2c2c" stroke="#2c2c2c" stroke-width="0.0" textLength="28.75" lengthAdjust="spacingAndGlyphs" >Asian</text>
<rect x="694.60" y="334.19" width="203.80" height="19.10" fill="#ffffff"/>
<rect x="898.40" y="334.19" width="19.60" height="19.10" fill="#000000"/>
<rect x="918.00" y="334.19" width="12.50" height="19.10" fill="#9a9a9a"/>
<rect x="694.60" y="334.19" width="235.90" height="19.10" fill="none" stroke="#3c3c3c" stroke-width="1.4"/>
<text x="785.42" y="348.44" font-size="12.52" font-weight="normal" fill="#4a4a4a" stroke="#4a4a4a" stroke-width="0.45" textLength="22.07" lengthAdjust="spacingAndGlyphs" >87%</text>
<text x="900.38" y="348.44" font-size="12.52" font-weight="normal" fill="#ececec" stroke="#ececec" stroke-width="0.35" textLength="15.56" lengthAdjust="spacingAndGlyphs" >8%</text>
<text x="654.74" y="347.29" font-size="12.10" font-weight="bold" fill="#2c2c2c" stroke="#2c2c2c" stroke-width="0.0" textLength="27.35" lengthAdjust="spacingAndGlyphs" >Black</text>
<rect x="694.60" y="362.98" width="229.40" height="19.10" fill="#ffffff"/>
<rect x="924.00" y="362.98" width="6.50" height="19.10" fill="#000000"/>
<rect x="694.60" y="362.98" width="235.90" height="19.10" fill="none" stroke="#3c3c3c" stroke-width="1.4"/>
<text x="798.34" y="377.23" font-size="12.50" font-weight="normal" fill="#4a4a4a" stroke="#4a4a4a" stroke-width="0.45" textLength="21.79" lengthAdjust="spacingAndGlyphs" >97%</text>
<text x="638.38" y="376.08" font-size="12.10" font-weight="bold" fill="#2c2c2c" stroke="#2c2c2c" stroke-width="0.0" textLength="44.03" lengthAdjust="spacingAndGlyphs" >Hispanic</text>
<rect x="694.60" y="391.77" width="193.40" height="19.10" fill="#ffffff"/>
<rect x="888.00" y="391.77" width="22.70" height="19.10" fill="#000000"/>
<rect x="910.70" y="391.77" width="19.80" height="19.10" fill="#9a9a9a"/>
<rect x="694.60" y="391.77" width="235.90" height="19.10" fill="none" stroke="#3c3c3c" stroke-width="1.4"/>
<text x="780.22" y="406.02" font-size="12.52" font-weight="normal" fill="#4a4a4a" stroke="#4a4a4a" stroke-width="0.45" textLength="22.07" lengthAdjust="spacingAndGlyphs" >82%</text>
<text x="891.65" y="406.02" font-size="12.50" font-weight="normal" fill="#ececec" stroke="#ececec" stroke-width="0.35" textLength="15.28" lengthAdjust="spacingAndGlyphs" >9%</text>
<text x="648.88" y="404.87" font-size="12.10" font-weight="bold" fill="#2c2c2c" stroke="#2c2c2c" stroke-width="0.0" textLength="30.39" lengthAdjust="spacingAndGlyphs" >Other</text>
<rect x="694.60" y="420.57" width="198.90" height="19.10" fill="#ffffff"/>
<rect x="893.50" y="420.57" width="21.60" height="19.10" fill="#000000"/>
<rect x="915.10" y="420.57" width="15.40" height="19.10" fill="#9a9a9a"/>
<rect x="694.60" y="420.57" width="235.90" height="19.10" fill="none" stroke="#3c3c3c" stroke-width="1.4"/>
<text x="782.97" y="434.82" font-size="12.52" font-weight="normal" fill="#4a4a4a" stroke="#4a4a4a" stroke-width="0.45" textLength="22.07" lengthAdjust="spacingAndGlyphs" >85%</text>
<text x="896.60" y="434.82" font-size="12.50" font-weight="normal" fill="#ececec" stroke="#ececec" stroke-width="0.35" textLength="15.28" lengthAdjust="spacingAndGlyphs" >9%</text>
<text x="632.45" y="433.67" font-size="12.10" font-weight="bold" fill="#2c2c2c" stroke="#2c2c2c" stroke-width="0.0" textLength="50.35" lengthAdjust="spacingAndGlyphs" >Unknown</text>
<rect x="694.60" y="449.36" width="195.50" height="19.10" fill="#ffffff"/>
<rect x="890.10" y="449.36" width="23.50" height="19.10" fill="#000000"/>
<rect x="913.60" y="449.36" width="16.90" height="19.10" fill="#9a9a9a"/>
<rect x="694.60" y="449.36" width="235.90" height="19.10" fill="none" stroke="#3c3c3c" stroke-width="1.4"/>
<text x="781.27" y="463.61" font-size="12.52" font-weight="normal" fill="#4a4a4a" stroke="#4a4a4a" stroke-width="0.45" textLength="22.07" lengthAdjust="spacingAndGlyphs" >83%</text>
<text x="894.15" y="463.61" font-size="12.50" font-weight="normal" fill="#ececec" stroke="#ececec" stroke-width="0.35" textLength="15.28" lengthAdjust="spacingAndGlyphs" >9%</text>
<text x="650.79" y="462.46" font-size="12.10" font-weight="bold" fill="#2c2c2c" stroke="#2c2c2c" stroke-width="0.0" textLength="31.71" lengthAdjust="spacingAndGlyphs" >White</text>
<line x1="694.60" y1="70.00" x2="694.60" y2="472.50" stroke="#3c3c3c" stroke-width="1.4"/>
<line x1="286.30" y1="306.95" x2="286.30" y2="324.65" stroke="#555" stroke-width="0.9"/>
<text x="278.66" y="301.00" font-size="12.41" font-weight="normal" fill="#2a2a2a" stroke="#2a2a2a" stroke-width="0.45" textLength="15.45" lengthAdjust="spacingAndGlyphs" >2%</text>
<text x="607.84" y="376.50" font-size="12.49" font-weight="bold" fill="#262626" stroke="#262626" stroke-width="0.1" textLength="15.61" lengthAdjust="spacingAndGlyphs" >4%</text>
<text x="932.19" y="376.10" font-size="12.50" font-weight="normal" fill="#444" stroke="#444" stroke-width="0.45" textLength="15.42" lengthAdjust="spacingAndGlyphs" >3%</text>
<text x="25.23" y="312.50" font-size="9.64" font-weight="bold" fill="#222" stroke="#222" stroke-width="0.1" textLength="5.22" lengthAdjust="spacingAndGlyphs" >a</text>
<text x="10.23" y="371.60" font-size="9.64" font-weight="bold" fill="#222" stroke="#222" stroke-width="0.1" textLength="5.22" lengthAdjust="spacingAndGlyphs" >a</text>
<text x="631.67" y="366.00" font-size="9.64" font-weight="bold" fill="#222" stroke="#222" stroke-width="0.1" textLength="6.26" lengthAdjust="spacingAndGlyphs" >a</text>
<rect x="327.50" y="494.00" width="7.50" height="6.00" fill="#ffffff" stroke="#333" stroke-width="1.3"/>
<text x="337.36" y="499.80" font-size="10.92" font-weight="normal" fill="#2a2a2a" stroke="#2a2a2a" stroke-width="0.6" textLength="61.36" lengthAdjust="spacingAndGlyphs" >Prediabetes</text>
<rect x="406.00" y="493.50" width="8.00" height="7.00" fill="#000"/>
<text x="416.75" y="499.80" font-size="10.66" font-weight="normal" fill="#2a2a2a" stroke="#2a2a2a" stroke-width="0.6" textLength="33.79" lengthAdjust="spacingAndGlyphs" >Type 1</text>
<text x="456.97" y="499.80" font-size="10.29" font-weight="normal" fill="#606060" stroke="#606060" stroke-width="0.45" textLength="11.24" lengthAdjust="spacingAndGlyphs" >or</text>
<text x="476.75" y="499.80" font-size="10.92" font-weight="normal" fill="#2a2a2a" stroke="#2a2a2a" stroke-width="0.6" textLength="81.66" lengthAdjust="spacingAndGlyphs" >Type 2 Diabetes</text>
<rect x="566.00" y="494.00" width="7.00" height="6.00" fill="#9a9a9a" stroke="#333" stroke-width="1.3"/>
<text x="575.97" y="499.80" font-size="10.92" font-weight="normal" fill="#2a2a2a" stroke="#2a2a2a" stroke-width="0.6" textLength="25.85" lengthAdjust="spacingAndGlyphs" >Both</text>
<text x="600.34" y="495.00" font-size="9.58" font-weight="normal" fill="#2a2a2a" stroke="#2a2a2a" stroke-width="0.3" textLength="7.42" lengthAdjust="spacingAndGlyphs" >b</text>
</svg>
</body></html>
